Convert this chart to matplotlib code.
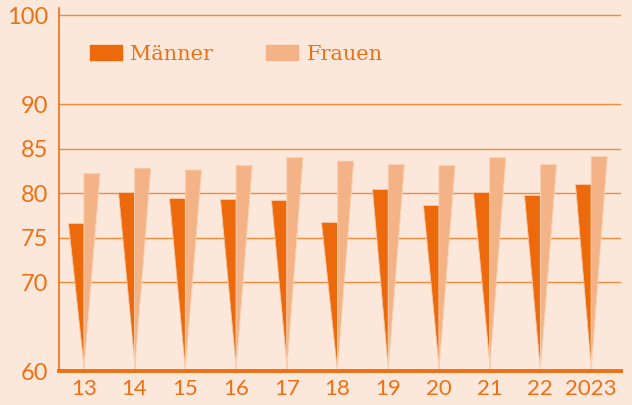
import matplotlib.pyplot as plt
from matplotlib.patches import Patch

# ---- Data ----
years = ["13", "14", "15", "16", "17", "18", "19", "20", "21", "22", "2023"]
maenner = [76.6, 80.1, 79.4, 79.3, 79.2, 76.8, 80.4, 78.7, 80.1, 79.8, 81.0]
frauen = [82.2, 82.8, 82.6, 83.1, 84.0, 83.6, 83.2, 83.1, 84.0, 83.2, 84.1]
y_ticks = [60, 70, 75, 80, 85, 90, 100]

BG = "#fce8da"
DARK = "#ec6a0c"
LIGHT = "#f4b386"
TEXT = "#ee7014"
GRID = "#f08a3c"

base = 60
half = 0.32

fig = plt.figure(figsize=(6.32, 4.05), dpi=100, facecolor=BG)
ax = fig.add_axes([59 / 632, 34 / 405, 562 / 632, 363 / 405], facecolor=BG)

# spike bars: triangles with the tip at the group centre on the base line
for i, (m, f) in enumerate(zip(maenner, frauen)):
    ax.fill([i - half, i, i], [m, m, base], color=DARK, ec="#f7c9a6", lw=0.6, zorder=3)
    ax.fill([i, i + half, i], [f, f, base], color=LIGHT, ec="#f9d3b6", lw=0.6, zorder=3)

ax.set_xlim(-0.49, len(years) - 1 + 0.59)
ax.set_ylim(base, 100.8)

ax.set_yticks(y_ticks)
ax.set_yticklabels([str(t) for t in y_ticks])
ax.set_xticks(range(len(years)))
ax.set_xticklabels(years)

for t in y_ticks[1:]:
    ax.axhline(t, color=GRID, lw=1.0, zorder=1)

ax.tick_params(axis="both", length=0, colors=TEXT)
ax.tick_params(axis="y", pad=8, labelsize=17)
ax.tick_params(axis="x", pad=6, labelsize=16)
for lab in ax.get_xticklabels() + ax.get_yticklabels():
    lab.set_family("Lato")

for side in ["top", "right"]:
    ax.spines[side].set_visible(False)
ax.spines["left"].set_color(TEXT)
ax.spines["left"].set_linewidth(1.2)
ax.spines["bottom"].set_color(TEXT)
ax.spines["bottom"].set_linewidth(2.8)
ax.spines["bottom"].set_zorder(4)

handles = [Patch(color=DARK, label="Männer"), Patch(color=LIGHT, label="Frauen")]
leg = ax.legend(handles=handles, loc="upper left", bbox_to_anchor=(0.021, 0.95),
                ncol=2, frameon=False, handlelength=1.54, handleheight=0.75,
                handletextpad=0.4, columnspacing=2.55,
                prop={"family": "DejaVu Serif", "size": 15})
for txt in leg.get_texts():
    txt.set_color(TEXT)

fig.savefig("out.png", dpi=100, facecolor=BG)
plt.close(fig)
